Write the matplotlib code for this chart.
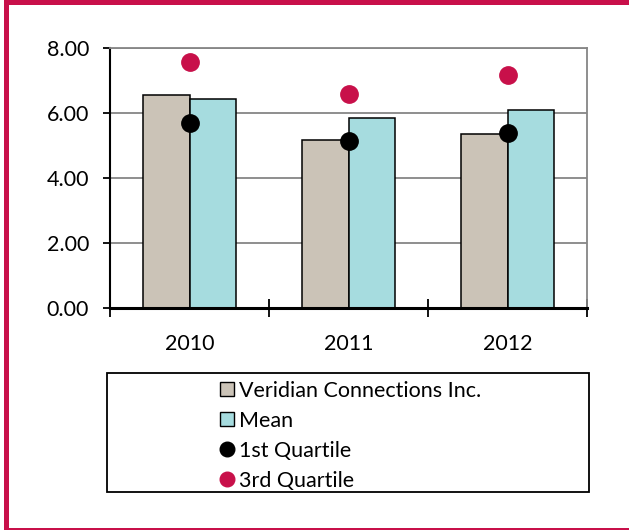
import numpy as np
import matplotlib
matplotlib.use('Agg')
import matplotlib.pyplot as plt
from matplotlib.lines import Line2D
from matplotlib.patches import Rectangle

plt.rcParams['font.family'] = ['Lato', 'DejaVu Sans']

years = ['2010', '2011', '2012']
company = [6.54, 5.16, 5.34]
mean = [6.42, 5.83, 6.07]
q1 = [5.69, 5.14, 5.37]
q3 = [7.54, 6.57, 7.14]
labels = ['Veridian Connections Inc.', 'Mean', '1st Quartile', '3rd Quartile']

tan = '#CBC3B7'
aqua = '#A6DCDF'
crimson = '#C8104A'

W, H = 629, 531
fig = plt.figure(figsize=(W / 100, H / 100), dpi=100)

def px(x0, y0, w, h):
    """pixel box (top-left origin) -> figure fraction"""
    return [x0 / W, 1 - (y0 + h) / H, w / W, h / H]

# crimson frame (no right edge in the original)
for box in [px(4, 0, 5, 530), px(4, 0, 625, 5), px(4, 528, 625, 2)]:
    fig.add_artist(Rectangle(box[:2], box[2], box[3], transform=fig.transFigure,
                             color=crimson, lw=0, zorder=0))

ax = fig.add_axes(px(110, 47.5, 477, 260.2))
x = np.arange(len(years))
bw = 0.29
ax.bar(x - bw / 2, company, bw, color=tan, edgecolor='black', lw=1.1, zorder=2)
ax.bar(x + bw / 2, mean, bw, color=aqua, edgecolor='black', lw=1.1, zorder=2)
ax.plot(x, q1, 'o', color='black', ms=12.5, zorder=3, clip_on=False)
ax.plot(x, q3, 'o', color=crimson, ms=12.5, zorder=3, clip_on=False)

ax.set_xlim(-0.5, 2.5)
ax.set_ylim(0, 8)
ax.set_yticks(np.arange(0, 8.01, 2))
ax.set_yticklabels([f'{v:.2f}' for v in np.arange(0, 8.01, 2)])
ax.yaxis.grid(True, color='#868686', lw=1.3, zorder=1)
ax.set_axisbelow(True)
ax.tick_params(axis='y', length=5, width=1.3, pad=10, labelsize=15.5, direction='out')

ax.set_xticks(np.arange(-0.5, 2.6, 1))
ax.set_xticklabels([])
ax.set_xticks(x, minor=True)
ax.set_xticklabels(years, minor=True)
ax.tick_params(axis='x', which='major', direction='inout', length=13, width=1.3)
ax.tick_params(axis='x', which='minor', length=0, pad=19, labelsize=15.5)

ax.spines['left'].set_linewidth(1.5)
ax.spines['bottom'].set_linewidth(2.2)
for s in ['top', 'right']:
    ax.spines[s].set_color('#868686')
    ax.spines[s].set_linewidth(1.3)

# legend frame + entries
lb = px(107, 373, 482, 119)
fig.add_artist(Rectangle(lb[:2], lb[2], lb[3], transform=fig.transFigure,
                         fill=False, edgecolor='black', lw=1.3))
handles = [
    Line2D([], [], marker='s', ls='none', ms=9.5, mfc=tan, mec='black', mew=1.0),
    Line2D([], [], marker='s', ls='none', ms=9.5, mfc=aqua, mec='black', mew=1.0),
    Line2D([], [], marker='o', ls='none', ms=10.5, mfc='black', mec='black'),
    Line2D([], [], marker='o', ls='none', ms=10.5, mfc=crimson, mec=crimson),
]
fig.legend(handles, labels, loc='upper left', bbox_to_anchor=(219 / W, 1 - 381 / H),
           frameon=False, fontsize=15.5, handlelength=0.75, handletextpad=0.2,
           labelspacing=0.46, borderpad=0, borderaxespad=0)

fig.savefig('out.png', dpi=100)
